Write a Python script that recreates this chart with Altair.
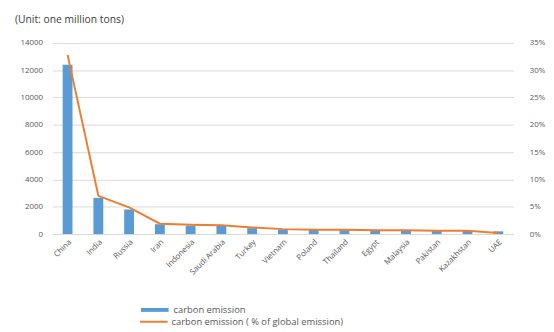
import altair as alt
import pandas as pd

countries = ["China", "India", "Russia", "Iran", "Indonesia", "Saudi Arabia", "Turkey",
             "Vietnam", "Poland", "Thailand", "Egypt", "Malaysia", "Pakistan",
             "Kazakhstan", "UAE"]
emission = [12400, 2650, 1800, 720, 620, 600, 430, 320, 300, 280, 260, 250, 230, 230, 200]
share_pct = [32.8, 7.0, 4.9, 1.9, 1.7, 1.6, 1.2, 0.9, 0.8, 0.8, 0.7, 0.7, 0.6, 0.6, 0.2]
left_ticks = [0, 2000, 4000, 6000, 8000, 10000, 12000, 14000]
right_ticks = [0, 0.05, 0.10, 0.15, 0.20, 0.25, 0.30, 0.35]
series = ["carbon emission", "carbon emission ( % of global emission)"]
colors = ["#5b9bd5", "#ed7d31"]

df = pd.DataFrame({
    "country": countries,
    "emission": emission,
    "share": [v / 100 for v in share_pct],
    "s_bar": [series[0]] * len(countries),
    "s_line": [series[1]] * len(countries),
})

FONT = "Open Sans"
GREY = "#595959"


def make_legend(y, width, color):
    return alt.Legend(
        title=None, orient="none", legendX=88, legendY=y, symbolType="stroke",
        symbolSize=784, symbolStrokeWidth=width, symbolStrokeColor=color,
        labelFontSize=9.5, labelColor=GREY,
        labelFont=FONT, labelOffset=3, labelLimit=400,
    )


x = alt.X("country:N", sort=countries, title=None,
          scale=alt.Scale(paddingInner=0.67, paddingOuter=0.33),
          axis=alt.Axis(labelAngle=315, labelFontSize=8, labelColor=GREY, labelFont=FONT,
                        domain=False, ticks=False, labelPadding=4, grid=False))

bars = alt.Chart(df).mark_bar(size=10).encode(
    x=x,
    y=alt.Y("emission:Q", title=None,
            scale=alt.Scale(domain=[0, 14000], nice=False),
            axis=alt.Axis(values=left_ticks, format="d", labelFontSize=8, labelColor=GREY,
                          labelFont=FONT, domain=False, ticks=False, labelPadding=10,
                          grid=True, gridColor="#d9d9d9", gridWidth=1)),
    color=alt.Color("s_bar:N", scale=alt.Scale(domain=[series[0]], range=[colors[0]]),
                    legend=make_legend(255, 4, colors[0])),
)

line = alt.Chart(df).mark_line(strokeWidth=2).encode(
    x=x,
    y=alt.Y("share:Q", title=None,
            scale=alt.Scale(domain=[0, 0.35], nice=False),
            axis=alt.Axis(values=right_ticks, format=".0%", orient="right", labelFontSize=8,
                          labelColor=GREY, labelFont=FONT, domain=False, ticks=False,
                          labelPadding=16, grid=False)),
    stroke=alt.Stroke("s_line:N", scale=alt.Scale(domain=[series[1]], range=[colors[1]]),
                      legend=make_legend(268, 2, colors[1])),
)

chart = alt.layer(bars, line).resolve_scale(y="independent").properties(
    width=468, height=194,
    padding={"left": 45, "top": 33, "right": 33, "bottom": 97},
    autosize=alt.AutoSizeParams(type="none"),
    title=alt.TitleParams("(Unit: one million tons)", anchor="start", frame="group",
                          dx=-38, offset=14, fontSize=10.5, fontWeight="normal",
                          color="#404040", font=FONT),
).configure_view(stroke=None)

chart.save("out.html", embed_options={"renderer": "svg", "actions": False})
